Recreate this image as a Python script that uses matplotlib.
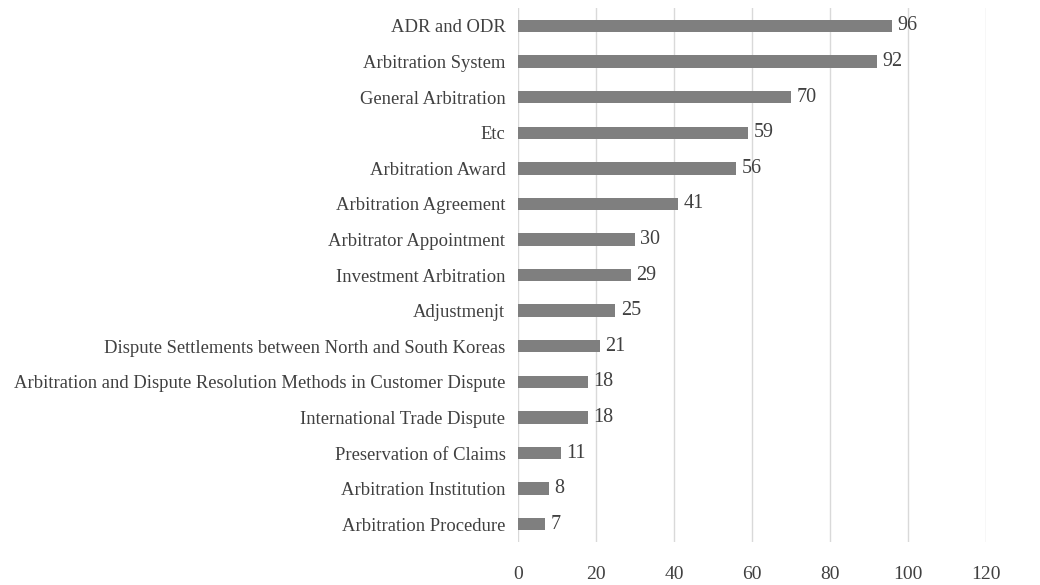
import matplotlib
matplotlib.use('Agg')
import matplotlib.pyplot as plt
import numpy as np

categories = ['ADR and ODR', 'Arbitration System', 'General Arbitration', 'Etc',
              'Arbitration Award', 'Arbitration Agreement', 'Arbitrator Appointment',
              'Investment Arbitration', 'Adjustmenjt',
              'Dispute Settlements between North and South Koreas',
              'Arbitration and Dispute Resolution Methods in Customer Dispute',
              'International Trade Dispute', 'Preservation of Claims',
              'Arbitration Institution', 'Arbitration Procedure']
counts = [96, 92, 70, 59, 56, 41, 30, 29, 25, 21, 18, 18, 11, 8, 7]
xticks = [0, 20, 40, 60, 80, 100, 120]

plt.rcParams['font.family'] = ['Liberation Serif', 'DejaVu Serif']

fig = plt.figure(figsize=(10.4, 5.85), dpi=100, facecolor='white')
ax = fig.add_axes([0.498, 0.0735, 0.45, 0.9125])

y = np.arange(len(categories))
bars = ax.barh(y, counts, height=0.35, color='#7f7f7f', zorder=3)

# value labels at bar ends
for bar, v in zip(bars, counts):
    ax.text(bar.get_width() + 1.4, bar.get_y() + bar.get_height() / 2, str(v),
            ha='left', va='center', fontsize=14.5, color='#404040')

ax.set_yticks(y)
ax.set_yticklabels(categories, fontsize=13.4, color='#404040')
ax.set_ylim(len(categories) - 0.5, -0.5)
ax.set_xlim(0, 120)
ax.set_xticks(xticks)
ax.set_xticklabels([str(t) for t in xticks], fontsize=14, color='#404040')
ax.tick_params(axis='both', length=0)
ax.tick_params(axis='x', pad=17)
ax.tick_params(axis='y', pad=9)
ax.grid(True, axis='x', color='#d9d9d9', linewidth=1, zorder=0)
for s in ax.spines.values():
    s.set_visible(False)

plt.savefig('out.png', dpi=100, facecolor='white')
plt.close()
